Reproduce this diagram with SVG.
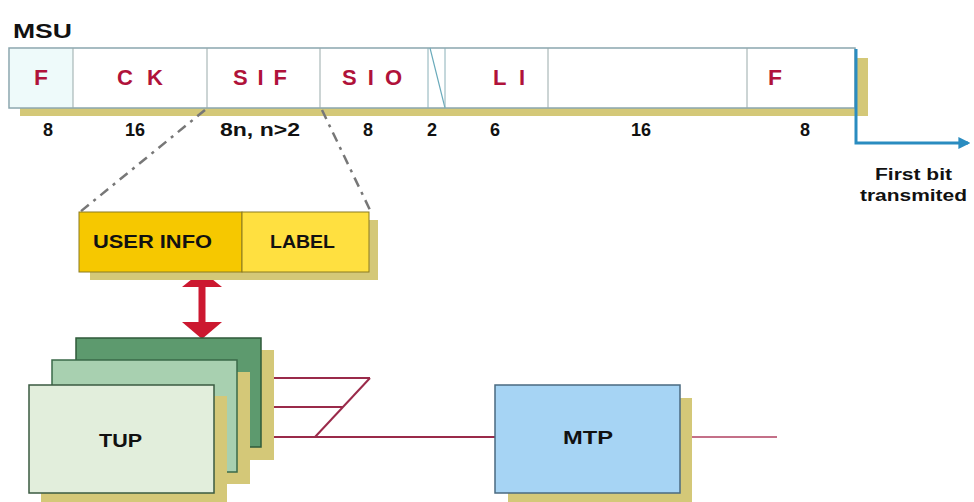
<svg xmlns="http://www.w3.org/2000/svg" width="974" height="502" viewBox="0 0 974 502">
<defs>
<style>
.lbl{font-family:"Liberation Sans",Arial,sans-serif;font-weight:bold;fill:#111;}
.fld{font-family:"Liberation Sans",Arial,sans-serif;font-weight:bold;fill:#b0123a;font-size:22px;}
.num{font-family:"Liberation Sans",Arial,sans-serif;font-weight:bold;fill:#111;font-size:18px;}
.shadow{fill:#d4c878;}
.div{stroke:#9aa;stroke-width:1;}
.redl{stroke:#9a2a4a;stroke-width:2;fill:none;}
</style>
<marker id="bluearr" viewBox="0 0 10 10" refX="8" refY="5" markerWidth="4" markerHeight="4" orient="auto">
<path d="M0,0 L10,5 L0,10 z" fill="#2a8cc0"/>
</marker>
</defs>
<rect width="974" height="502" fill="#fff"/>
<text class="lbl" x="13" y="38" font-size="21" textLength="59" lengthAdjust="spacingAndGlyphs">MSU</text>
<g id="msu">
<rect class="shadow" x="20" y="108" width="848" height="8"/>
<rect class="shadow" x="856" y="58" width="12" height="58"/>
<rect x="9" y="48" width="846" height="60" fill="#fff" stroke="#8aa6ae" stroke-width="1.5"/>
<rect x="10" y="49" width="63" height="58" fill="#eefafa"/>
<line class="div" x1="73" y1="48" x2="73" y2="108"/>
<line class="div" x1="207" y1="48" x2="207" y2="108"/>
<line class="div" x1="320" y1="48" x2="320" y2="108"/>
<line x1="428" y1="48" x2="428" y2="108" stroke="#8ab0b8" stroke-width="1"/>
<line x1="430" y1="48" x2="445" y2="108" stroke="#6aaabb" stroke-width="1.2"/>
<line x1="445" y1="48" x2="445" y2="108" stroke="#8ab0b8" stroke-width="1"/>
<line class="div" x1="548" y1="48" x2="548" y2="108"/>
<line class="div" x1="747" y1="48" x2="747" y2="108"/>
<text class="fld" x="34" y="85" textLength="14" lengthAdjust="spacingAndGlyphs">F</text>
<text class="fld" x="117" y="85" textLength="46" lengthAdjust="spacing">CK</text>
<text class="fld" x="233" y="85" textLength="54" lengthAdjust="spacing">SIF</text>
<text class="fld" x="342" y="85" textLength="60" lengthAdjust="spacing">SIO</text>
<text class="fld" x="493" y="85" textLength="32" lengthAdjust="spacing">LI</text>
<text class="fld" x="768" y="85" textLength="14" lengthAdjust="spacingAndGlyphs">F</text>
<text class="num" x="48" y="136" text-anchor="middle">8</text>
<text class="num" x="135" y="136" text-anchor="middle">16</text>
<text class="num" x="220" y="136" textLength="80" lengthAdjust="spacingAndGlyphs">8n, n&gt;2</text>
<text class="num" x="368" y="136" text-anchor="middle">8</text>
<text class="num" x="432" y="136" text-anchor="middle">2</text>
<text class="num" x="495" y="136" text-anchor="middle">6</text>
<text class="num" x="641" y="136" text-anchor="middle">16</text>
<text class="num" x="805" y="136" text-anchor="middle">8</text>
</g>
<g id="connectors">
<path d="M856,49 L856,143 L968,143" fill="none" stroke="#2a8cc0" stroke-width="3" marker-end="url(#bluearr)"/>
<line x1="205" y1="110" x2="80" y2="212" stroke="#777" stroke-width="2.5" stroke-dasharray="10,6,3,6"/>
<line x1="322" y1="110" x2="370" y2="210" stroke="#777" stroke-width="2.5" stroke-dasharray="10,6,3,6"/>
<line x1="202" y1="284" x2="202" y2="326" stroke="#cc1830" stroke-width="7"/>
<path d="M202,271 L222,287 L182,287 z" fill="#cc1830"/>
<path d="M202,339 L222,322 L182,322 z" fill="#cc1830"/>
<line class="redl" x1="258" y1="378" x2="370" y2="378"/>
<line class="redl" x1="235" y1="407" x2="343" y2="407"/>
<line class="redl" x1="370" y1="378" x2="315" y2="437"/>
<line class="redl" x1="212" y1="437" x2="495" y2="437" stroke="#b04060" stroke-width="1.5"/>
<line x1="680" y1="437" x2="777" y2="437" stroke="#b04060" stroke-width="1.5"/>
</g>
<text class="lbl" x="875" y="180" font-size="16" textLength="77" lengthAdjust="spacingAndGlyphs">First bit</text>
<text class="lbl" x="860" y="201" font-size="16" textLength="107" lengthAdjust="spacingAndGlyphs">transmited</text>
<g id="sif">
<rect class="shadow" x="90" y="272" width="288" height="8"/>
<rect class="shadow" x="369" y="220" width="9" height="60"/>
<rect x="79" y="212" width="163" height="60" fill="#f6c800" stroke="#8a7a20" stroke-width="1"/>
<rect x="242" y="212" width="127" height="60" fill="#ffe040" stroke="#8a7a20" stroke-width="1"/>
<text class="lbl" x="93" y="248" font-size="18" textLength="119" lengthAdjust="spacingAndGlyphs">USER INFO</text>
<text class="lbl" x="270" y="248" font-size="18" textLength="65" lengthAdjust="spacingAndGlyphs">LABEL</text>
</g>
<g id="tup">
<rect class="shadow" x="88" y="350" width="186" height="110"/>
<rect x="76" y="338" width="185" height="109" fill="#5d9a6e" stroke="#2f5a3a" stroke-width="1.5"/>
<rect class="shadow" x="64" y="372" width="186" height="112"/>
<rect x="52" y="360" width="185" height="112" fill="#a8d0b0" stroke="#3a6a48" stroke-width="1.5"/>
<rect class="shadow" x="41" y="396" width="186" height="106"/>
<rect x="29" y="385" width="185" height="108" fill="#e2eedc" stroke="#3a5a40" stroke-width="1.5"/>
<text class="lbl" x="99" y="447" font-size="19" textLength="43" lengthAdjust="spacingAndGlyphs">TUP</text>
</g>
<g id="mtp">
<rect class="shadow" x="508" y="398" width="184" height="104"/>
<rect x="495" y="385" width="185" height="108" fill="#a6d4f4" stroke="#4a6a80" stroke-width="1.5"/>
<text class="lbl" x="563" y="444" font-size="18" textLength="50" lengthAdjust="spacingAndGlyphs">MTP</text>
</g>
</svg>
